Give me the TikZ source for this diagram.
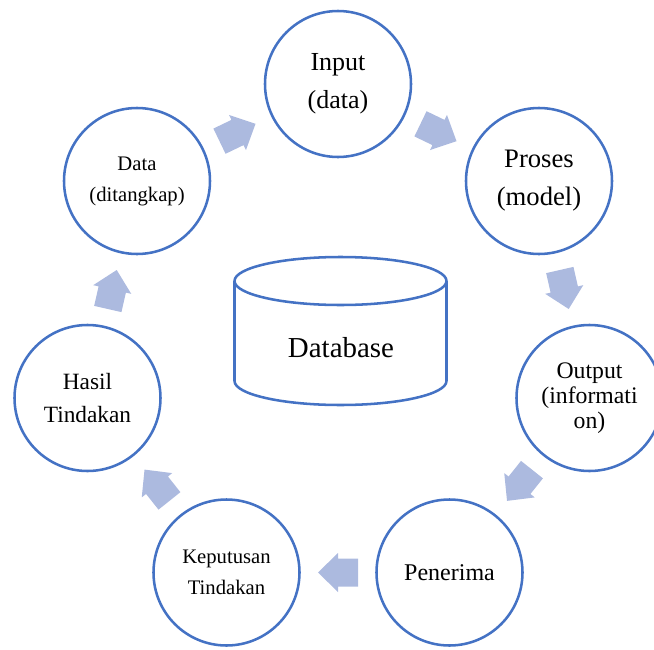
\documentclass[tikz,border=0pt]{standalone}
\usepackage{fontspec}
\setmainfont{Liberation Serif}
\usetikzlibrary{calc}
\definecolor{ringblue}{RGB}{68,114,196}
\definecolor{arrowfill}{RGB}{172,186,223}
\newcommand{\segarrow}[3]{%
  \begin{scope}[shift={($(#1)!0.5!(#2)$)}, rotate=#3]
    \fill[arrowfill] (20,0) -- (0,-19.5) -- (0,-14) -- (-20,-14) -- (-20,14) -- (0,14) -- (0,19.5) -- cycle;
  \end{scope}}
\begin{document}
\begin{tikzpicture}[x=0.75pt,y=-0.75pt,
  circ/.style={circle,draw=ringblue,line width=1.9pt,fill=white,minimum size=109.5pt,inner sep=0pt,align=center}]
\useasboundingbox (0,0) rectangle (654,650);
\clip (0,0) rectangle (654,650);
% database
\fill[white] (234.5,281) -- (234.5,381) arc[start angle=180,end angle=0,x radius=106,y radius=24] -- (446.5,281) -- cycle;
\draw[ringblue,line width=1.9pt] (234.5,281) -- (234.5,381) arc[start angle=180,end angle=0,x radius=106,y radius=24] -- (446.5,281);
\draw[ringblue,line width=1.9pt,fill=white] (340.5,281) ellipse[x radius=106,y radius=24];
\node[font=\fontsize{21.7pt}{26pt}\selectfont] (db) at (341,348) {Database};
% circles
\node[circ,font=\fontsize{19.5pt}{28.5pt}\selectfont] (input) at (338,84) {Input\\(data)};
\node[circ,font=\fontsize{20pt}{28.5pt}\selectfont] (proses) at (539,181) {Proses\\(model)};
\node[circ,font=\fontsize{17.8pt}{18.75pt}\selectfont] (output) at (589.5,398) {Output\\(informati\\on)};
\node[circ,font=\fontsize{18pt}{22pt}\selectfont] (penerima) at (449.5,572.5) {Penerima};
\node[circ,font=\fontsize{15.5pt}{23.25pt}\selectfont] (keputusan) at (226.5,572.5) {Keputusan\\Tindakan};
\node[circ,font=\fontsize{17.5pt}{24.75pt}\selectfont] (hasil) at (87.5,398) {Hasil\\Tindakan};
\node[circ,font=\fontsize{15.5pt}{23.25pt}\selectfont] (data) at (137,181) {Data\\(ditangkap)};
% arrows
\segarrow{input}{proses}{-25.71}
\segarrow{proses}{output}{-77.14}
\segarrow{output}{penerima}{-128.57}
\segarrow{penerima}{keputusan}{180}
\segarrow{keputusan}{hasil}{128.57}
\segarrow{hasil}{data}{77.14}
\segarrow{data}{input}{25.71}
\end{tikzpicture}
\end{document}
